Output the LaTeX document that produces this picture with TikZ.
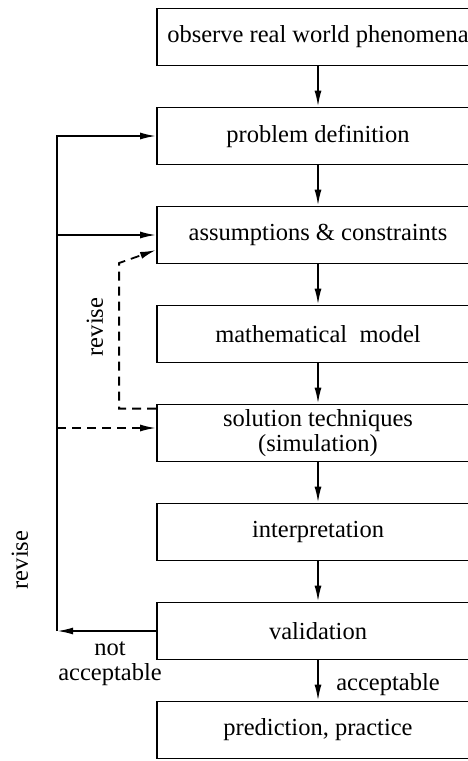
\documentclass[tikz,border=0pt]{standalone}
\usepackage{fontspec}
\setmainfont{Liberation Serif}
\usetikzlibrary{positioning}
\usetikzlibrary{calc}
\usetikzlibrary{arrows.meta}

\begin{document}
\begin{tikzpicture}[x=1pt,y=1pt,node distance=99pt,on grid,auto,
    >={Latex[length=16pt,width=7pt]}, line width=1.8pt,
    every node/.style={font=\fontsize{24.5}{25}\selectfont},
    stage/.style={draw,rectangle,minimum width=322pt,minimum height=57pt,inner sep=0pt,align=center},
    loopdash/.style={dash pattern=on 9pt off 6pt}]

        \useasboundingbox (0,0) rectangle (468,-761);
        \clip (0,0) rectangle (468,-761);

        \node[stage] (obs) at (318,-37) {observe real world phenomena};
        \node[stage] (prob) [below=of obs] {problem definition};
        \node[stage] (ass) [below=of prob] {assumptions \& constraints};
        \node[stage] (math) [below=of ass] {mathematical\ \ model};
        \node[stage] (sol) [below=of math] {solution techniques\\(simulation)};
        \node[stage] (int) [below=of sol] {interpretation};
        \node[stage] (val) [below=of int] {validation};
        \node[stage] (pred) [below=of val] {prediction, practice};

        \coordinate (back) at ($(val.west)+(-99,0)$);
        \coordinate (rv) at ($(sol.north west)+(-37,-5)$);

        \node[rotate=90] (rev1) at (95,-327) {revise};
        \node[rotate=90] (rev2) at (20,-560) {revise};
        \node[align=center] (nacc) at (110,-664) {not\\acceptable};
        \node[] (acc) at (388,-685) {acceptable};

        \path [->]
          (obs) edge [] node[] {} (prob)
          (prob) edge [] node[] {} (ass)
          (ass) edge [] node[] {} (math)
          (math) edge [] node[] {} (sol)
          (sol) edge [] node[] {} (int)
          (int) edge [] node[] {} (val)
          (val) edge [] node[] {} (pred)

          (val.west) edge [] node {} (back)
          (back |- ass.west) edge [] node {} (ass.west);

        \draw [->] (back) |- (prob.west);
        \draw [->,loopdash] ($(back |- sol.west)+(0,5)$) -- ($(sol.west)+(0,5)$);
        \draw [->,loopdash] ($(sol.north west)+(0,-5)$) -- (rv) -- (rv |- 0,-263) -- ($(ass.west)+(0,-15)$);

      \end{tikzpicture}
\end{document}
